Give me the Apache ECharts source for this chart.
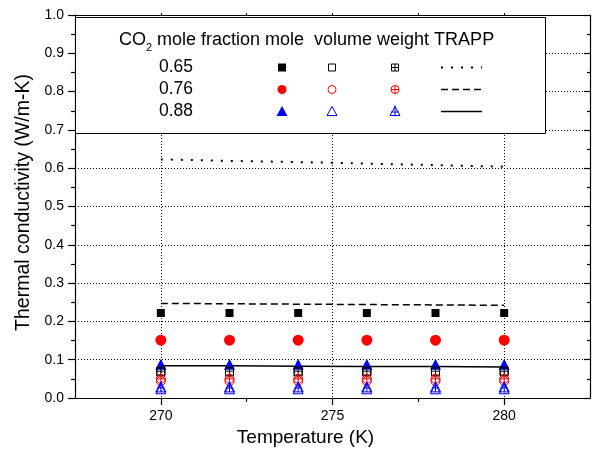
<!DOCTYPE html>
<html><head><meta charset="utf-8">
<script src="https://cdn.jsdelivr.net/npm/echarts@6/dist/echarts.min.js"></script>
<style>html,body{margin:0;padding:0;background:#fff}#c{width:594px;height:455px}</style>
</head><body><div id="c"></div>
<script>
const temperatures = [270, 272, 274, 276, 278, 280];
const fractionLabels = ['0.65', '0.76', '0.88'];
const columnTitles = ['mole', 'volume', 'weight', 'TRAPP'];
const mole065 = [0.222, 0.222, 0.222, 0.222, 0.222, 0.222];
const mole076 = [0.151, 0.151, 0.151, 0.151, 0.151, 0.151];
const mole088 = [0.088, 0.088, 0.088, 0.088, 0.088, 0.088];
const volume065 = [0.068, 0.068, 0.068, 0.068, 0.068, 0.068];
const volume076 = [0.044, 0.044, 0.044, 0.044, 0.044, 0.044];
const volume088 = [0.024, 0.024, 0.024, 0.024, 0.024, 0.024];
const weight065 = [0.070, 0.070, 0.070, 0.070, 0.070, 0.070];
const weight076 = [0.050, 0.050, 0.050, 0.050, 0.050, 0.050];
const weight088 = [0.029, 0.029, 0.029, 0.029, 0.029, 0.029];
const trapp065 = [0.623, 0.619, 0.616, 0.612, 0.608, 0.604];
const trapp076 = [0.247, 0.246, 0.245, 0.244, 0.243, 0.242];
const trapp088 = [0.084, 0.084, 0.083, 0.082, 0.082, 0.081];
const xMajorTicks = [270, 275, 280];
const xMinorTicks = [272.5, 277.5];
const xTopTicks = [270, 272.5, 275, 277.5, 280];

const FONT = 'Arial, "Liberation Sans", sans-serif';
const pts = arr => temperatures.map((t, i) => [t, arr[i]]);

const P_SQPLUS = 'path://M0,0H10V10H0Z M5,0V10 M0,5H10';
const P_CIRCPLUS = 'path://M0,5A5,5 0 1 1 10,5A5,5 0 1 1 0,5Z M5,0V10 M0,5H10';
const P_TRIPLUS = 'path://M5,0L10,10H0Z M5,0V10 M1.5,6H8.5';

const colors = ['#000000', '#ff0000', '#0000ff'];
const DOTTED = [2, 8];
const DASHED = [7, 4];

function scatter(name, data, symbol, size, color, filled) {
  return {
    type: 'scatter', name, data: pts(data), symbol, symbolSize: size,
    itemStyle: filled ? { color: color, borderWidth: 0, opacity: 1 } : { color: 'transparent', borderColor: color, borderWidth: 1, opacity: 1 },
    emphasis: { disabled: true }, z: 3
  };
}
function trapp(name, data, type, width) {
  return {
    type: 'line', name, data: pts(data), showSymbol: false, symbol: 'none',
    lineStyle: { color: '#000', width: width, type: type, cap: 'butt' },
    emphasis: { disabled: true }, z: 2
  };
}

const series = [
  trapp('TRAPP 0.65', trapp065, DOTTED, 2),
  trapp('TRAPP 0.76', trapp076, DASHED, 1.5),
  trapp('TRAPP 0.88', trapp088, 'solid', 1.5),
  scatter('mole 0.65', mole065, 'rect', 8, colors[0], true),
  scatter('mole 0.76', mole076, 'circle', 11, colors[1], true),
  scatter('mole 0.88', mole088, 'triangle', 11, colors[2], true),
  scatter('volume 0.65', volume065, 'rect', 8, colors[0], false),
  scatter('volume 0.76', volume076, 'circle', 9, colors[1], false),
  scatter('volume 0.88', volume088, 'triangle', 10, colors[2], false),
  scatter('weight 0.65', weight065, P_SQPLUS, 8, colors[0], false),
  scatter('weight 0.76', weight076, P_CIRCPLUS, 9, colors[1], false),
  scatter('weight 0.88', weight088, P_TRIPLUS, 10, colors[2], false)
];

// Legend box (drawn as graphic)
const LX = 75, LY = 17, LW = 470, LH = 116;
const rowY = [67.5, 89.5, 111.5];
const colX = [282, 332, 395];
const g = [];
const Z = 100;
g.push({ type: 'rect', shape: { x: LX + 0.5, y: LY + 0.5, width: LW, height: LH }, style: { fill: '#fff', stroke: '#000', lineWidth: 1 }, z: Z });
g.push({ type: 'text', x: 119, y: 40, style: { text: 'CO', font: '18px ' + FONT, fill: '#000', textVerticalAlign: 'middle' }, z: Z + 1 });
g.push({ type: 'text', x: 146, y: 48, style: { text: '2', font: '11px ' + FONT, fill: '#000', textVerticalAlign: 'middle' }, z: Z + 1 });
g.push({ type: 'text', x: 157, y: 40, style: { text: 'mole fraction ' + columnTitles[0] + '  ' + columnTitles[1] + ' ' + columnTitles[2] + ' ' + columnTitles[3], font: '18px ' + FONT, fill: '#000', textVerticalAlign: 'middle' }, z: Z + 1 });
fractionLabels.forEach((lab, i) => {
  g.push({ type: 'text', x: 159, y: rowY[i], style: { text: lab, font: '17.5px ' + FONT, fill: '#000', textVerticalAlign: 'middle' }, z: Z + 1 });
});
function ln(x1, y1, x2, y2, c) {
  return { type: 'line', shape: { x1, y1, x2, y2 }, style: { stroke: c, lineWidth: 1 }, z: Z + 1 };
}
// mole column
g.push({ type: 'rect', shape: { x: colX[0] - 4, y: rowY[0] - 4, width: 8, height: 8 }, style: { fill: colors[0] }, z: Z + 1 });
g.push({ type: 'circle', shape: { cx: colX[0], cy: rowY[1], r: 4.5 }, style: { fill: colors[1] }, z: Z + 1 });
g.push({ type: 'polygon', shape: { points: [[colX[0], rowY[2] - 5.5], [colX[0] + 5.5, rowY[2] + 4.5], [colX[0] - 5.5, rowY[2] + 4.5]] }, style: { fill: colors[2] }, z: Z + 1 });
// volume column
g.push({ type: 'rect', shape: { x: colX[1] - 3.5, y: rowY[0] - 3.5, width: 7, height: 7 }, style: { fill: 'none', stroke: colors[0], lineWidth: 1 }, z: Z + 1 });
g.push({ type: 'circle', shape: { cx: colX[1], cy: rowY[1], r: 4 }, style: { fill: 'none', stroke: colors[1], lineWidth: 1 }, z: Z + 1 });
g.push({ type: 'polygon', shape: { points: [[colX[1], rowY[2] - 5], [colX[1] + 5, rowY[2] + 4], [colX[1] - 5, rowY[2] + 4]] }, style: { fill: 'none', stroke: colors[2], lineWidth: 1 }, z: Z + 1 });
// weight column
const wx = colX[2];
g.push({ type: 'rect', shape: { x: wx - 3.5, y: rowY[0] - 3.5, width: 7, height: 7 }, style: { fill: 'none', stroke: colors[0], lineWidth: 1 }, z: Z + 1 });
g.push(ln(wx, rowY[0] - 3.5, wx, rowY[0] + 3.5, colors[0]));
g.push(ln(wx - 3.5, rowY[0], wx + 3.5, rowY[0], colors[0]));
g.push({ type: 'circle', shape: { cx: wx, cy: rowY[1], r: 4 }, style: { fill: 'none', stroke: colors[1], lineWidth: 1 }, z: Z + 1 });
g.push(ln(wx, rowY[1] - 4, wx, rowY[1] + 4, colors[1]));
g.push(ln(wx - 4, rowY[1], wx + 4, rowY[1], colors[1]));
g.push({ type: 'polygon', shape: { points: [[wx, rowY[2] - 5], [wx + 5, rowY[2] + 4], [wx - 5, rowY[2] + 4]] }, style: { fill: 'none', stroke: colors[2], lineWidth: 1 }, z: Z + 1 });
g.push(ln(wx, rowY[2] - 6, wx, rowY[2] + 5, colors[2]));
g.push(ln(wx - 4, rowY[2] + 0.5, wx + 4, rowY[2] + 0.5, colors[2]));
// TRAPP column
[[DOTTED, 2], [DASHED, 1.5], [null, 1.5]].forEach((d, i) => {
  g.push({ type: 'line', shape: { x1: 441, y1: rowY[i], x2: 482, y2: rowY[i] }, style: { stroke: '#000', lineWidth: d[1], lineDash: d[0], lineCap: 'butt' }, z: Z + 1 });
});

const axisCommon = { min: 267.5, max: 282.5, type: 'value' };
const option = {
  animation: false,
  backgroundColor: '#fff',
  grid: { left: 75, right: 4, top: 15, bottom: 57, containLabel: false },
  xAxis: [
    Object.assign({}, axisCommon, {
      position: 'bottom', name: 'Temperature (K)', nameLocation: 'middle', nameGap: 29,
      nameTextStyle: { fontSize: 19, color: '#000', fontFamily: FONT, padding: [0, 54, 0, 0] },
      axisLine: { onZero: false, lineStyle: { color: '#000', width: 1.2 } },
      axisTick: { customValues: xMajorTicks, length: 7, lineStyle: { color: '#000', width: 1.2 } },
      axisLabel: { customValues: xMajorTicks, fontSize: 14, color: '#000', fontFamily: FONT, margin: 11 },
      splitLine: { show: true, lineStyle: { color: '#000', width: 1, type: [1, 2] } }
    }),
    Object.assign({}, axisCommon, {
      position: 'bottom', axisLine: { show: false },
      axisTick: { customValues: xMinorTicks, length: 4, lineStyle: { color: '#000', width: 1.2 } },
      axisLabel: { show: false }, splitLine: { show: false }
    }),
    Object.assign({}, axisCommon, {
      position: 'top', axisLine: { onZero: false, lineStyle: { color: '#000', width: 1.2 } },
      axisTick: { customValues: xTopTicks, length: 2, lineStyle: { color: '#000' } },
      axisLabel: { show: false }, splitLine: { show: false }
    })
  ],
  yAxis: [
    {
      type: 'value', min: 0, max: 1, interval: 0.1, position: 'left',
      name: 'Thermal conductivity (W/m-K)', nameLocation: 'middle', nameGap: 27,
      nameTextStyle: { fontSize: 19.5, color: '#000', fontFamily: FONT, padding: [0, 0, 0, 8] },
      axisLine: { show: true, onZero: false, lineStyle: { color: '#000', width: 1.2 } },
      axisTick: { show: true, length: 7, lineStyle: { color: '#000', width: 1.2 } },
      minorTick: { show: true, splitNumber: 2, length: 4, lineStyle: { color: '#000', width: 1.2 } },
      axisLabel: { fontSize: 14, color: '#000', fontFamily: FONT, margin: 11, formatter: v => v.toFixed(1) },
      splitLine: { show: true, lineStyle: { color: '#000', width: 1, type: [1, 2] } }
    },
    {
      type: 'value', min: 0, max: 1, interval: 0.1, position: 'right',
      axisLine: { show: true, onZero: false, lineStyle: { color: '#000', width: 1.2 } },
      axisTick: { show: true, inside: true, length: 6, lineStyle: { color: '#000', width: 1.2 } },
      minorTick: { show: true, splitNumber: 2, length: 3, lineStyle: { color: '#000', width: 1.2 } },
      axisLabel: { show: false }, splitLine: { show: false }
    }
  ],
  graphic: { elements: g },
  series: series
};
const chart = echarts.init(document.getElementById('c'), null, { renderer: 'canvas' });
chart.setOption(option);
</script></body></html>
